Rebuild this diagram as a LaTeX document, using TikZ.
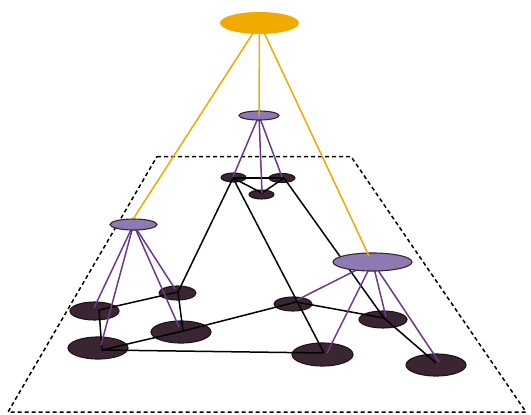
\documentclass[tikz,border=0pt]{standalone}
\usetikzlibrary{shapes.geometric}
\definecolor{orng}{HTML}{F0AA00}
\definecolor{pfill}{HTML}{8E79B2}
\definecolor{pline}{HTML}{6B3A8A}
\definecolor{dfill}{HTML}{3A2632}
\definecolor{dline}{HTML}{1E1219}
\tikzset{
  dnode/.style={ellipse, draw=dline, fill=dfill, line width=1.1pt, inner sep=0pt},
  pnode/.style={ellipse, draw=dfill, fill=pfill, line width=1.1pt, inner sep=0pt},
  onode/.style={ellipse, fill=orng, inner sep=0pt},
  bedge/.style={black, line width=1.5pt},
  pedge/.style={pline, line width=1.5pt},
  oedge/.style={orng, line width=1.5pt},
  plane/.style={black, line width=1.5pt, dash pattern=on 4pt off 3pt}
}
\begin{document}
\begin{tikzpicture}[x=1pt,y=-1pt]
\useasboundingbox (0,0) rectangle (531,415);
% plane
\draw[plane] (157,156.5) -- (351,156.5) -- (526,412) -- (8,412) -- cycle;
% dark nodes
\node[dnode, minimum width=25pt, minimum height=9pt] (A) at (233.5,177.5) {};
\node[dnode, minimum width=26pt, minimum height=9pt] (B) at (282,178) {};
\node[dnode, minimum width=25pt, minimum height=9pt] (C) at (261.5,194.5) {};
\node[dnode, minimum width=37pt, minimum height=14pt] (D) at (177.5,293) {};
\node[dnode, minimum width=49pt, minimum height=18pt] (E) at (94.5,311) {};
\node[dnode, minimum width=60pt, minimum height=22pt] (F) at (181,332) {};
\node[dnode, minimum width=60pt, minimum height=22pt] (G) at (98,348) {};
\node[dnode, minimum width=38pt, minimum height=14pt] (H) at (293,304) {};
\node[dnode, minimum width=48pt, minimum height=17pt] (I) at (383,319.5) {};
\node[dnode, minimum width=61pt, minimum height=23pt] (J) at (322.5,354.5) {};
\node[dnode, minimum width=60pt, minimum height=22pt] (K) at (436,365) {};
% anchor points
\coordinate (a) at (233,178);
\coordinate (b) at (284,178);
\coordinate (c) at (262,193);
\coordinate (d) at (178,292);
\coordinate (e) at (99,310);
\coordinate (f) at (183,331);
\coordinate (g) at (102,350);
\coordinate (h) at (296,302);
\coordinate (i) at (384,318);
\coordinate (j) at (324,353);
\coordinate (k) at (436,363);
% black edges
\draw[bedge] (a) -- (b);
\draw[bedge] (a) -- (c);
\draw[bedge] (c) -- (b);
\draw[bedge] (a) -- (d);
\draw[bedge] (a) -- (j);
\draw[bedge] (b) -- (i);
\draw[bedge] (i) -- (k);
\draw[bedge] (e) -- (d);
\draw[bedge] (e) -- (g);
\draw[bedge] (d) -- (f);
\draw[bedge] (g) -- (f);
\draw[bedge] (f) -- (h);
\draw[bedge] (g) -- (j);
\draw[bedge] (h) -- (i);
% purple node positions
\coordinate (m) at (259,115.5);
\coordinate (l) at (133.5,224.5);
\coordinate (r) at (372.5,262);
% purple edges
\draw[pedge] (m) -- (233,177);
\draw[pedge] (m) -- (262,193);
\draw[pedge] (m) -- (282,177);
\draw[pedge] (l) -- (94,308);
\draw[pedge] (l) -- (101,345);
\draw[pedge] (l) -- (175,289);
\draw[pedge] (l) -- (179,327);
\draw[pedge] (r) -- (297,300);
\draw[pedge] (r) -- (327,353);
\draw[pedge] (r) -- (386,317);
\draw[pedge] (r) -- (439,362);
% purple nodes
\node[pnode, minimum width=40pt, minimum height=9pt] (M) at (m) {};
\node[pnode, minimum width=47pt, minimum height=11pt] (L) at (l) {};
\node[pnode, minimum width=79pt, minimum height=18pt] (R) at (r) {};
% orange edges
\coordinate (t) at (259.5,23);
\coordinate (ri) at (369,256);
\draw[oedge] (t) -- (M.center);
\draw[oedge] (t) -- (L.north);
\draw[oedge] (t) -- (ri);
\node[onode, minimum width=79pt, minimum height=22pt] (T) at (t) {};
\end{tikzpicture}
\end{document}
